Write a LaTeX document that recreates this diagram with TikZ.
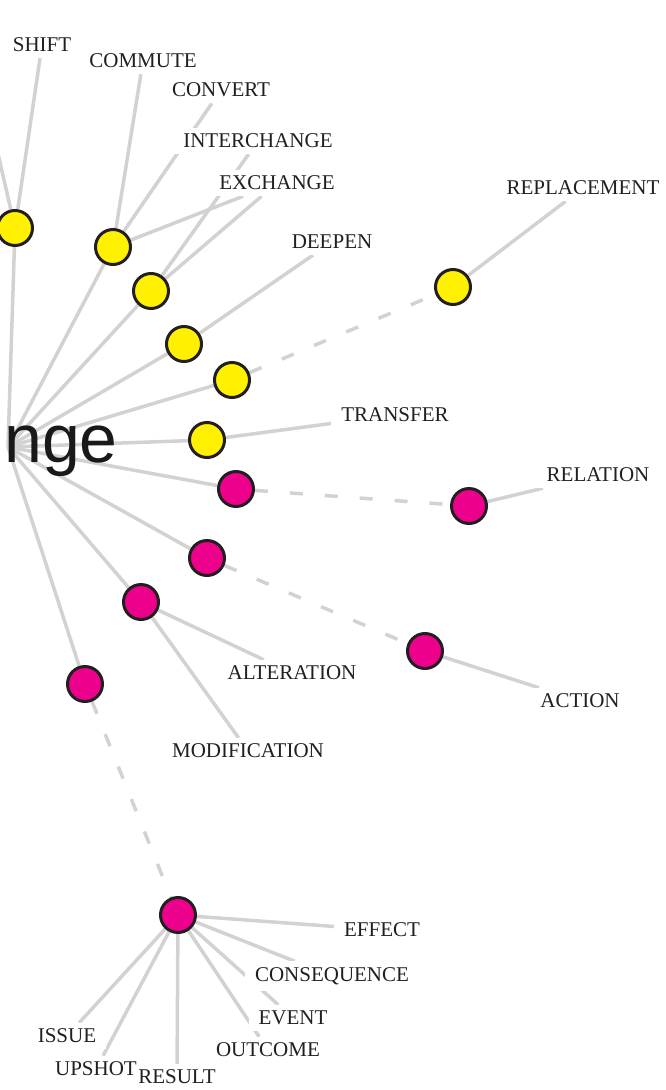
\documentclass[tikz,border=0pt]{standalone}
\usepackage{fontspec}
\setmainfont{Liberation Serif}
\newfontfamily\hubfont{Liberation Sans}
\usepackage{tikz}
\usetikzlibrary{positioning}

\pgfdeclarelayer{background}
\pgfsetlayers{background,main}

\definecolor{SynYellow}{HTML}{FFF100}
\definecolor{SynMagenta}{HTML}{EC008C}
\definecolor{Outline}{HTML}{231F20}
\definecolor{EdgeGray}{HTML}{D2D2D2}

\tikzset{
   synset/.style={circle, draw=Outline, line width=3pt,
      minimum size=35pt, inner sep=0pt},
   verbset/.style={synset, fill=SynYellow},
   nounset/.style={synset, fill=SynMagenta},
   lemma/.style={fill=white, text=Outline, inner xsep=10pt, inner ysep=6pt,
      font=\fontsize{21}{25}\selectfont},
   link/.style={draw=EdgeGray, line width=3.5pt},
   farlink/.style={link, dash pattern=on 13pt off 22pt},
}

\begin{document}
\begin{tikzpicture}[x=1pt, y=-1pt]
      \useasboundingbox (0,0) rectangle (665,1090);

      \node (hubword) at (118,462) [anchor=base east, inner sep=0pt,
         text=black!90, font=\hubfont\fontsize{68}{70}\selectfont] {nge};
      \coordinate (hub) at (8,447);
      \coordinate (offleft) at (-12,110);

      \node (v1) at (15,228) [verbset] {};
      \node (v2) at (113,247) [verbset] {};
      \node (v3) at (151,291) [verbset] {};
      \node (v4) at (184,344) [verbset] {};
      \node (v5) at (232,380) [verbset] {};
      \node (v6) at (207,440) [verbset] {};
      \node (v7) at (453,287) [verbset] {};

      \node (n1) at (236,489) [nounset] {};
      \node (n2) at (207,558) [nounset] {};
      \node (n3) at (141,602) [nounset] {};
      \node (n4) at (85,684) [nounset] {};
      \node (n5) at (469,506) [nounset] {};
      \node (n6) at (425,651) [nounset] {};
      \node (n7) at (178,915) [nounset] {};

      \node (shift) at (42,45) [lemma] {SHIFT};
      \node (commute) at (143,61) [lemma] {COMMUTE};
      \node (convert) at (221,90) [lemma] {CONVERT};
      \node (interchange) at (258,141) [lemma] {INTERCHANGE};
      \node (exchange) at (277,183) [lemma] {EXCHANGE};
      \node (deepen) at (332,242) [lemma] {DEEPEN};
      \node (replacement) at (583,188) [lemma] {REPLACEMENT};
      \node (transfer) at (395,415) [lemma] {TRANSFER};
      \node (relation) at (598,475) [lemma] {RELATION};
      \node (alteration) at (292,673) [lemma] {ALTERATION};
      \node (action) at (580,701) [lemma] {ACTION};
      \node (modification) at (248,751) [lemma] {MODIFICATION};
      \node (effect) at (382,930) [lemma] {EFFECT};
      \node (consequence) at (332,976) [lemma] {CONSEQUENCE};
      \node (event) at (293,1018) [lemma] {EVENT};
      \node (outcome) at (268,1050) [lemma] {OUTCOME};
      \node (issue) at (67,1036) [lemma] {ISSUE};
      \node (upshot) at (96,1069) [lemma] {UPSHOT};
      \node (result) at (177,1077) [lemma, inner xsep=1pt] {RESULT};

      \begin{pgfonlayer}{background}
      \foreach \s in {v1,v2,v3,v4,v5,v6,n1,n2,n3,n4}
         \draw [link] (hub) -- (\s);

      \draw [link] (v1) -- (shift);
      \draw [link] (v1) -- (offleft);
      \draw [link] (v2) -- (commute);
      \draw [link] (v2) -- (convert);
      \draw [link] (v2) -- (exchange);
      \draw [link] (v3) -- (interchange);
      \draw [link] (v3) -- (exchange);
      \draw [link] (v4) -- (deepen);
      \draw [farlink] (v5) -- (v7);
      \draw [link] (v7) -- (replacement);
      \draw [link] (v6) -- (transfer);
      \draw [farlink] (n1) -- (n5);
      \draw [link] (n5) -- (relation);
      \draw [farlink] (n2) -- (n6);
      \draw [link] (n6) -- (action);
      \draw [link] (n3) -- (alteration);
      \draw [link] (n3) -- (modification);
      \draw [farlink] (n4) -- (n7);
      \foreach \w in {effect,consequence,event,outcome,result,upshot,issue}
         \draw [link] (n7) -- (\w);
      \end{pgfonlayer}
   \end{tikzpicture}
\end{document}
